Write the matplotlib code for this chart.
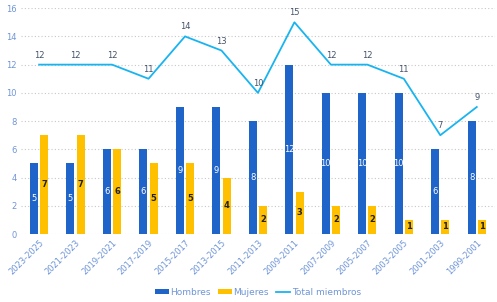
import numpy as np
import matplotlib.pyplot as plt

periodos = ['2023-2025', '2021-2023', '2019-2021', '2017-2019', '2015-2017', '2013-2015',
            '2011-2013', '2009-2011', '2007-2009', '2005-2007', '2003-2005', '2001-2003', '1999-2001']
hombres = [5, 5, 6, 6, 9, 9, 8, 12, 10, 10, 10, 6, 8]
mujeres = [7, 7, 6, 5, 5, 4, 2, 3, 2, 2, 1, 1, 1]
total = [12, 12, 12, 11, 14, 13, 10, 15, 12, 12, 11, 7, 9]

azul = '#1f64c8'
amarillo = '#ffc000'
celeste = '#19b4f0'
texto = '#6f95d6'

fig = plt.figure(figsize=(4.97, 3.02), dpi=100)
ax = fig.add_axes([0.042, 0.225, 0.954, 0.748])

x = np.arange(len(periodos))
w = 0.22
b1 = ax.bar(x - w / 2 - 0.03, hombres, w, color=azul, label='Hombres', zorder=2)
b2 = ax.bar(x + w / 2 + 0.03, mujeres, w, color=amarillo, label='Mujeres', zorder=2)
linea, = ax.plot(x, total, color=celeste, lw=1.3, label='Total miembros', zorder=3)

for r, v in zip(b1, hombres):
    ax.text(r.get_x() + r.get_width() / 2, v / 2, str(v), ha='center', va='center',
            color='white', fontsize=6, zorder=4)
for r, v in zip(b2, mujeres):
    ax.text(r.get_x() + r.get_width() / 2, v / 2, str(v), ha='center', va='center',
            color='#222222', fontsize=6, fontweight='bold', zorder=4)
for xi, v in zip(x, total):
    ax.text(xi, v + 0.35, str(v), ha='center', va='bottom', color='#44546a', fontsize=6, zorder=4)

ax.set_xlim(-0.5, len(periodos) - 0.5)
ax.set_ylim(0, 16)
ax.set_yticks(range(0, 17, 2))
ax.set_xticks(x)
ax.set_xticklabels(periodos, rotation=45, ha='right', rotation_mode='anchor')
ax.tick_params(axis='both', length=0, labelsize=6, colors=texto, pad=3)
ax.grid(axis='y', color='#c8c8c8', linestyle=(0, (1, 2)), lw=0.8, zorder=0)
for s in ax.spines.values():
    s.set_visible(False)

ax.legend([b1, b2, linea], ['Hombres', 'Mujeres', 'Total miembros'],
          loc='center', bbox_to_anchor=(0.5, -0.257), ncol=3, frameon=False,
          fontsize=6.5, labelcolor=texto, handlelength=1.5, handleheight=0.6, columnspacing=0.8,
          handletextpad=0.2)

plt.savefig('out.png', dpi=100)
